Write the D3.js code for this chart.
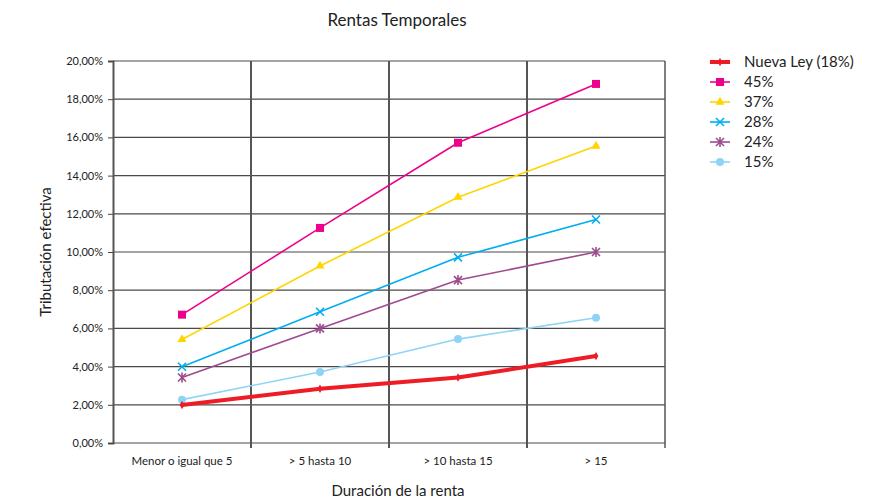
<!DOCTYPE html>
<html><head><meta charset="utf-8">
<script src="https://cdn.jsdelivr.net/npm/d3@7"></script>
<style>
body{margin:0;background:#fff;}
text{font-family:Lato,"Open Sans",sans-serif;font-weight:400;fill:#222;}
</style></head><body>
<svg id="c" width="871" height="501"></svg>
<script>
const categories = ["Menor o igual que 5", "> 5 hasta 10", "> 10 hasta 15", "> 15"];
const nuevaLey = [1.99, 2.84, 3.43, 4.55];
const s45 = [6.72, 11.26, 15.72, 18.8];
const s37 = [5.42, 9.27, 12.87, 15.55];
const s28 = [3.99, 6.87, 9.72, 11.7];
const s24 = [3.43, 6.0, 8.53, 10.0];
const s15 = [2.27, 3.72, 5.44, 6.56];
const yTicks = [0, 2, 4, 6, 8, 10, 12, 14, 16, 18, 20];
const seriesNames = ["Nueva Ley (18%)", "45%", "37%", "28%", "24%", "15%"];

const series = [
  {name: seriesNames[0], values: nuevaLey, color: "#ee1c25", width: 4, marker: "diamond"},
  {name: seriesNames[1], values: s45, color: "#ec008c", width: 1.6, marker: "square"},
  {name: seriesNames[2], values: s37, color: "#ffd500", width: 1.6, marker: "triangle"},
  {name: seriesNames[3], values: s28, color: "#00aeef", width: 1.6, marker: "x"},
  {name: seriesNames[4], values: s24, color: "#a04a8e", width: 1.6, marker: "star"},
  {name: seriesNames[5], values: s15, color: "#8fd4f5", width: 1.6, marker: "circle"}
];

const svg = d3.select("#c");
const L = 113, R = 665, T = 61, B = 443;
const x = d3.scaleBand().domain(categories).range([L, R]);
const y = d3.scaleLinear().domain([0, 20]).range([B, T]);

svg.append("g").selectAll("line").data(yTicks).join("line")
  .attr("x1", L).attr("x2", R).attr("y1", d => y(d)).attr("y2", d => y(d))
  .attr("stroke", "#4a4a4a").attr("stroke-width", 1.2);
svg.append("g").selectAll("line").data(categories.slice(1)).join("line")
  .attr("x1", d => x(d)).attr("x2", d => x(d)).attr("y1", T).attr("y2", B + 5)
  .attr("stroke", "#555").attr("stroke-width", 2);
svg.append("line").attr("x1", R).attr("x2", R).attr("y1", T).attr("y2", B + 5)
  .attr("stroke", "#555").attr("stroke-width", 1.5);

const yAxis = d3.axisLeft(y).tickValues(yTicks).tickSize(5).tickPadding(5)
  .tickFormat(d => d3.format(".2f")(d).replace(".", ",") + "%");
const gy = svg.append("g").attr("transform", `translate(${L},0)`).call(yAxis);
gy.select(".domain").attr("stroke", "#555").attr("stroke-width", 2);
gy.selectAll(".tick line").attr("stroke", "#444");
gy.selectAll(".tick text").attr("font-size", 11).attr("fill", "#333").attr("font-family", "Lato,sans-serif");

svg.append("g").selectAll("text").data(categories).join("text")
  .attr("x", d => x(d) + x.bandwidth() / 2).attr("y", B + 22)
  .attr("text-anchor", "middle").attr("font-size", 11.5).attr("fill", "#333").text(d => d);

svg.append("text").attr("x", 397).attr("y", 26).attr("text-anchor", "middle")
  .attr("font-size", 17).text("Rentas Temporales");
svg.append("text").attr("x", 398).attr("y", 496).attr("text-anchor", "middle")
  .attr("font-size", 15).text("Duración de la renta");
svg.append("text").attr("transform", `translate(51,${(T + B) / 2}) rotate(-90)`)
  .attr("text-anchor", "middle").attr("font-size", 15).text("Tributación efectiva");

function drawMarker(g, type, cx, cy, color) {
  if (type === "square") {
    g.append("rect").attr("x", cx - 4).attr("y", cy - 4).attr("width", 8).attr("height", 8).attr("fill", color);
  } else if (type === "triangle") {
    g.append("path").attr("d", d3.symbol(d3.symbolTriangle, 36)()).attr("transform", `translate(${cx},${cy})`).attr("fill", color);
  } else if (type === "circle") {
    g.append("circle").attr("cx", cx).attr("cy", cy).attr("r", 4).attr("fill", color);
  } else if (type === "x") {
    g.append("path").attr("d", `M${cx-4},${cy-4}L${cx+4},${cy+4}M${cx-4},${cy+4}L${cx+4},${cy-4}`)
      .attr("stroke", color).attr("stroke-width", 1.6).attr("fill", "none");
  } else if (type === "star") {
    g.append("path").attr("d", `M${cx-4},${cy-4}L${cx+4},${cy+4}M${cx-4},${cy+4}L${cx+4},${cy-4}M${cx},${cy-5}L${cx},${cy+5}`)
      .attr("stroke", color).attr("stroke-width", 1.6).attr("fill", "none");
  } else if (type === "diamond") {
    g.append("path").attr("d", d3.symbol(d3.symbolDiamond, 20)()).attr("transform", `translate(${cx},${cy})`).attr("fill", color);
  }
}

const line = d3.line().x((d, i) => x(categories[i]) + x.bandwidth() / 2).y(d => y(d));
series.slice().reverse().forEach(s => {
  const g = svg.append("g");
  g.append("path").attr("d", line(s.values)).attr("fill", "none")
    .attr("stroke", s.color).attr("stroke-width", s.width).attr("stroke-linejoin", "round");
  s.values.forEach((v, i) => drawMarker(g, s.marker, x(categories[i]) + x.bandwidth() / 2, y(v), s.color));
});

const lg = svg.append("g");
series.forEach((s, i) => {
  const cy = 62 + i * 20;
  lg.append("line").attr("x1", 710).attr("x2", 730).attr("y1", cy).attr("y2", cy)
    .attr("stroke", s.color).attr("stroke-width", s.width);
  drawMarker(lg, s.marker, 720, cy, s.color);
  lg.append("text").attr("x", 744).attr("y", cy + 5).attr("font-size", 15).attr("fill", "#333").text(s.name);
});
</script>
</body></html>
